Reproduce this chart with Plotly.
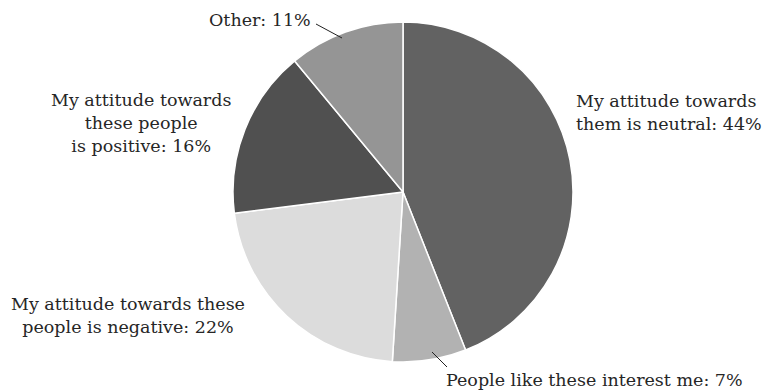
import plotly.graph_objects as go

W, H = 762, 392

labels = [
    "My attitude towards<br>them is neutral: 44%",
    "People like these interest me: 7%",
    "My attitude towards these<br>people is negative: 22%",
    "My attitude towards<br>these people<br>is positive: 16%",
    "Other: 11%",
]
values = [44, 7, 22, 16, 11]
colors = ["#626262", "#b2b2b2", "#dcdcdc", "#505050", "#959595"]

FONT = "DejaVu Serif"
FS = 17.5

def px(x, y):
    return x / W, 1 - y / H

fig = go.Figure(go.Pie(
    labels=labels, values=values, sort=False, direction="clockwise", rotation=0,
    marker=dict(colors=colors, line=dict(color="white", width=1.5)),
    textinfo="none", hoverinfo="label+percent", showlegend=False,
    domain=dict(x=[(403 - 170) / W, (403 + 170) / W], y=[1 - 362 / H, 1 - 22 / H]),
))

# label placement (pixel positions in the 762x392 canvas)
ann_pos = [
    (574, 112, "left"),
    (594, 380, "center"),
    (128, 315, "center"),
    (141, 123, "center"),
    (260, 20, "center"),
]
for lab, (x, y, al) in zip(labels, ann_pos):
    xx, yy = px(x, y)
    fig.add_annotation(x=xx, y=yy, xref="paper", yref="paper", text=lab, showarrow=False,
                       xanchor=al, yanchor="middle", align=al,
                       font=dict(family=FONT, size=FS, color="#262626"))

for (x0, y0, x1, y1) in [(316, 24, 342, 38), (432, 352, 447, 367)]:
    a, b = px(x0, y0)
    c, d = px(x1, y1)
    fig.add_shape(type="line", xref="paper", yref="paper", x0=a, y0=b, x1=c, y1=d,
                  line=dict(color="#222222", width=1))

fig.update_layout(width=W, height=H, margin=dict(l=0, r=0, t=0, b=0),
                  paper_bgcolor="white", plot_bgcolor="white")
fig.write_html("out.html")
